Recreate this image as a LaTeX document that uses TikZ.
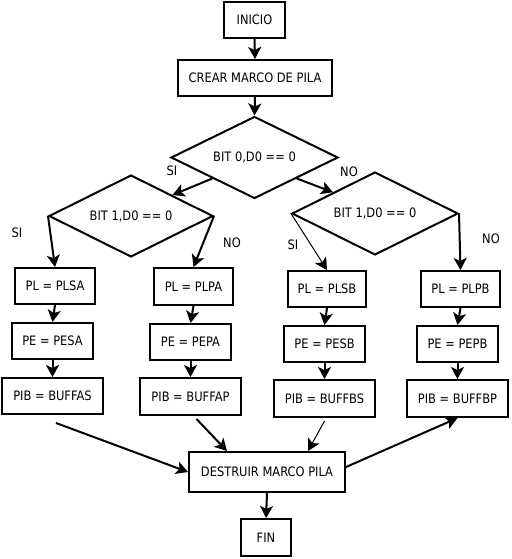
\documentclass[tikz,border=0pt]{standalone}
\usepackage{fontspec}
\setmainfont{DejaVu Sans}[FakeStretch=0.88]
\usetikzlibrary{shapes.geometric,arrows.meta}
\begin{document}
\begin{tikzpicture}[x=1pt,y=-1pt,
  font=\fontsize{13}{15}\selectfont,
  box/.style={draw,line width=2pt,inner sep=0pt,minimum height=36pt},
  dia/.style={draw,diamond,aspect=2,line width=2pt,inner sep=0pt},
  arr/.style={line width=2pt,-{Stealth[length=12pt,width=13pt,inset=3pt]}},
  tarr/.style={line width=1pt,-{Stealth[length=12pt,width=13pt,inset=3pt]}},
  lbl/.style={inner sep=0pt}]
\useasboundingbox (0,0) rectangle (511,559);
\node[box,minimum width=61pt] (inicio) at (254.5,20) {INICIO};
\node[box,minimum width=154pt] (crear) at (255,78) {CREAR MARCO DE PILA};
\node[dia,minimum width=167pt,minimum height=82pt] (d1) at (254.5,157.5) {BIT 0,D0 == 0};
\node[dia,minimum width=164pt,minimum height=82pt] (d2) at (131,216) {BIT 1,D0 == 0};
\node[dia,minimum width=166pt,minimum height=83pt] (d3) at (375,213.5) {BIT 1,D0 == 0};
\node[box,minimum width=80pt] (plsa) at (55,286) {PL = PLSA};
\node[box,minimum width=79pt,minimum height=37pt] (plpa) at (193.5,286.5) {PL = PLPA};
\node[box,minimum width=78pt] (plsb) at (327,289) {PL = PLSB};
\node[box,minimum width=79pt] (plpb) at (460.5,289) {PL = PLPB};
\node[box,minimum width=81pt] (pesa) at (52.5,341) {PE = PESA};
\node[box,minimum width=81pt] (pepa) at (190.5,342) {PE = PEPA};
\node[box,minimum width=81pt] (pesb) at (324.5,344) {PE = PESB};
\node[box,minimum width=81pt] (pepb) at (457.5,344) {PE = PEPB};
\node[box,minimum width=101pt] (bufas) at (52.5,396) {PIB = BUFFAS};
\node[box,minimum width=101pt,minimum height=37pt] (bufap) at (190.5,396.5) {PIB = BUFFAP};
\node[box,minimum width=101pt,minimum height=37pt] (bufbs) at (324.5,398.5) {PIB = BUFFBS};
\node[box,minimum width=101pt,minimum height=37pt] (bufbp) at (457.5,398.5) {PIB = BUFFBP};
\node[box,minimum width=156pt,minimum height=40pt] (destruir) at (267,472) {DESTRUIR MARCO PILA};
\node[box,minimum width=50pt,minimum height=37pt] (fin) at (266,537.5) {FIN};
\node[lbl] (l1) at (172,171) {SI};
\node[lbl] (l2) at (349,172) {NO};
\node[lbl] (l3) at (17,233) {SI};
\node[lbl] (l4) at (232,243) {NO};
\node[lbl] (l5) at (293,245) {SI};
\node[lbl] (l6) at (491,239) {NO};
\coordinate (c1) at (56,423);
\draw[arr] (inicio.south) -- (crear.north);
\draw[arr] (crear.south) -- (d1.north);
\draw[arr] (d1.south west) -- (d2.north east);
\draw[arr] (d1.south east) -- (d3.north west);
\draw[arr] (d2.west) -- (plsa.north);
\draw[arr] (d2.east) -- (plpa.north);
\draw[tarr] (d3.west) -- (plsb.north);
\draw[arr] (d3.east) -- (plpb.north);
\draw[arr] (plsa.south) -- (pesa.north);
\draw[arr] (plpa.south) -- (pepa.north);
\draw[arr] (plsb.south) -- (pesb.north);
\draw[arr] (plpb.south) -- (pepb.north);
\draw[arr] (pesa.south) -- (bufas.north);
\draw[arr] (pepa.south) -- (bufap.north);
\draw[arr] (pesb.south) -- (bufbs.north);
\draw[arr] (pepb.south) -- (bufbp.north);
\draw[arr] (c1) -- (destruir.west);
\draw[arr] ([xshift=6pt,yshift=-3pt]bufap.south) -- ([xshift=-40pt]destruir.north);
\draw[tarr] ([yshift=-3pt]bufbs.south) -- ([xshift=41pt]destruir.north);
\draw[arr] ([yshift=5pt]destruir.east) -- (bufbp.south);
\draw[arr] (destruir.south) -- (fin.north);
\end{tikzpicture}
\end{document}
